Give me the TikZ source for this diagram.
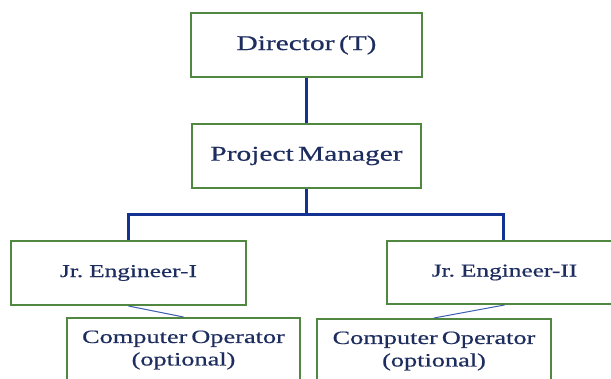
\documentclass[tikz,border=0pt]{standalone}
\usepackage{fontspec}
\setmainfont[FakeStretch=1.4,FakeBold=0.5,WordSpace=0.6]{Liberation Serif}
\definecolor{boxgreen}{RGB}{80,135,65}
\definecolor{linkblue}{RGB}{20,50,145}
\definecolor{thinblue}{RGB}{60,95,175}
\definecolor{labelnavy}{RGB}{30,45,95}
\tikzset{
  orgbox/.style={draw=boxgreen, line width=2pt, fill=white, text=labelnavy,
    align=center, inner sep=0pt},
  topbox/.style={orgbox, minimum width=231pt, minimum height=64pt, font=\fontsize{21}{24}\selectfont},
  engbox/.style={orgbox, minimum width=235pt, minimum height=64pt, font=\fontsize{18.1}{21}\selectfont},
  opbox/.style={orgbox, minimum width=233pt, minimum height=64pt, font=\fontsize{18.8}{22.5}\selectfont},
  mainlink/.style={draw=linkblue, line width=3pt},
  sublink/.style={draw=thinblue, line width=1pt}
}
\begin{document}
\begin{tikzpicture}[x=1pt,y=-1pt]
\useasboundingbox (0,0) rectangle (611,379);
\clip (0,0) rectangle (611,379);
\fill[white] (0,0) rectangle (611,379);

\node[topbox] (dir) at (306.5,45) {Director (T)};
\node[topbox, minimum width=229pt] (pm) at (306.5,156) {Project Manager};
\node[engbox] (je1) at (128.5,273) {Jr. Engineer-I};
\node[engbox, minimum height=63pt] (je2) at (504.5,272.5) {Jr. Engineer-II};
\node[opbox] (co1) at (183.5,350) {Computer Operator\\(optional)};
\node[opbox, minimum width=234pt] (co2) at (434,351) {Computer Operator\\(optional)};

% reporting lines
\coordinate (bus) at (pm.south |- 0,215);
\draw[mainlink] (dir.south) -- (pm.north);
\draw[mainlink] (je1.north) |- (bus) -| ([xshift=-1.5pt]je2.north);
\draw[mainlink] (pm.south) -- (bus);
\draw[sublink] (je1.south) -- (co1.north);
\draw[sublink] (je2.south) -- (co2.north);
\end{tikzpicture}
\end{document}
